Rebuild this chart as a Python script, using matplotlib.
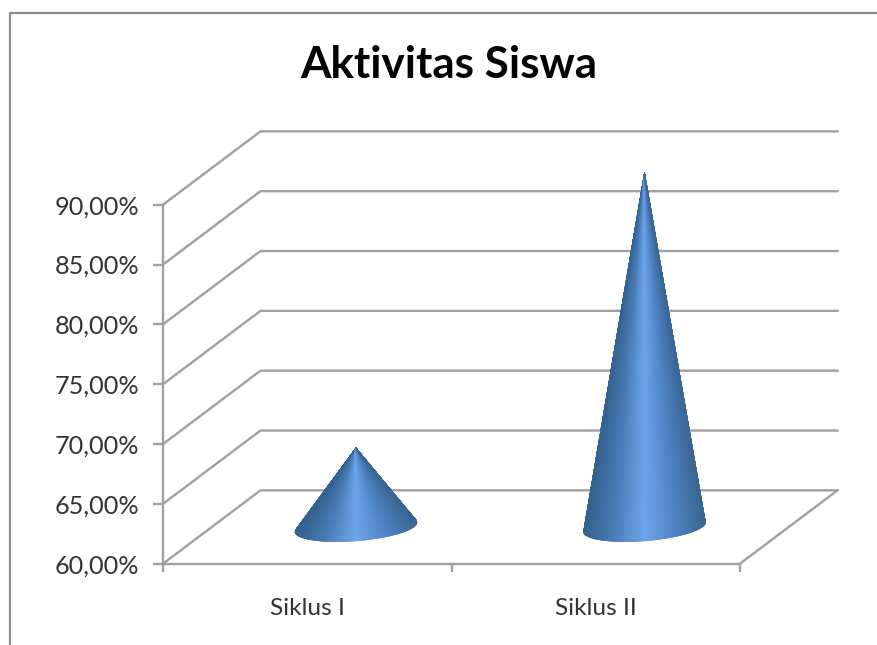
import numpy as np
import matplotlib
matplotlib.use("Agg")
import matplotlib.pyplot as plt
from matplotlib.collections import PolyCollection
from matplotlib.colors import LinearSegmentedColormap
from matplotlib.lines import Line2D

categories = ["Siklus I", "Siklus II"]
values = [66.6, 89.6]
y_ticks = [60, 65, 70, 75, 80, 85, 90]
y_labels = ["60,00%", "65,00%", "70,00%", "75,00%", "80,00%", "85,00%", "90,00%"]

plt.rcParams["font.family"] = ["Lato", "DejaVu Sans"]
W, H = 877, 645
GRID = "#a0a0a0"
DEPTH_X, DEPTH_Y = 0.338, 6.13
RADIUS, DEPTH_FRAC = 0.2, 0.2

fig = plt.figure(figsize=(W / 100, H / 100), dpi=100, facecolor="white")
ax = fig.add_axes([163 / W, 1 - 563.7 / H, 577 / W, 359 / H])
ax.set_facecolor("none")
ax.set_xlim(0, 2)
ax.set_ylim(60, 90)

for s in ("top", "right"):
    ax.spines[s].set_visible(False)
for s in ("left", "bottom"):
    ax.spines[s].set_color(GRID)
    ax.spines[s].set_linewidth(1.7)

n = len(categories)
ax.set_yticks(y_ticks, y_labels)
ax.set_xticks(np.arange(n + 1), [""] * (n + 1))
ax.set_xticks(np.arange(n) + 0.5, categories, minor=True)
ax.tick_params(axis="y", length=7, width=1.7, color=GRID, labelcolor="#333333",
               labelsize=18.2, pad=10)
ax.tick_params(axis="x", which="major", length=6, width=1.7, color=GRID)
ax.tick_params(axis="x", which="minor", length=0, labelcolor="#333333",
               labelsize=17.6, pad=24.5)

for v in y_ticks:
    ax.plot([0, DEPTH_X, n + DEPTH_X], [v, v + DEPTH_Y, v + DEPTH_Y],
            color=GRID, lw=1.7, clip_on=False, zorder=1, solid_joinstyle="round")
ax.plot([n, n + DEPTH_X], [y_ticks[0], y_ticks[0] + DEPTH_Y],
        color=GRID, lw=1.7, clip_on=False, zorder=1)

cmap = LinearSegmentedColormap.from_list(
    "cone", ["#33618f", "#4a7db8", "#6ca6ea", "#4f85c6", "#3a6694"])

for i, v in enumerate(values):
    cx = i + 0.5 + DEPTH_X / 2
    cy = y_ticks[0] + DEPTH_Y / 2
    t = np.linspace(0, 2 * np.pi, 721)
    ex = cx + RADIUS * np.cos(t) + DEPTH_FRAC * DEPTH_X * np.sin(t)
    ey = cy + DEPTH_FRAC * DEPTH_Y * np.sin(t)
    apex = (cx, v + DEPTH_Y / 2)
    ang = np.arctan2(ex - apex[0], apex[1] - ey)
    i_l, i_r = int(np.argmin(ang)), int(np.argmax(ang))
    front = int(np.argmin(ey))
    a, b = sorted((i_l, i_r))
    idx = np.arange(a, b + 1) if a <= front <= b else np.r_[np.arange(b, 721), np.arange(0, a + 1)]
    arc = np.column_stack([ex[idx], ey[idx]])
    if arc[0, 0] > arc[-1, 0]:
        arc = arc[::-1]
    polys = [[apex, arc[k], arc[k + 1]] for k in range(len(arc) - 1)]
    u = (arc[:-1, 0] - arc[:, 0].min()) / (arc[:, 0].max() - arc[:, 0].min())
    cols = cmap(u)
    ax.add_collection(PolyCollection(polys, facecolors=cols, edgecolors=cols,
                                     linewidths=0.4, clip_on=False, zorder=3))

ax.set_xlim(0, 2)
ax.set_ylim(60, 90)

fig.text(449 / W, 1 - 65 / H, "Aktivitas Siswa", ha="center", va="center",
         fontsize=31.7, fontweight="bold", color="black")

fig.add_artist(Line2D([9.5 / W, 9.5 / W, 1], [0, 1 - 12.5 / H, 1 - 12.5 / H],
                      color="#8c8c8c", lw=1.6, transform=fig.transFigure))

fig.savefig("out.png", dpi=100, facecolor="white")
